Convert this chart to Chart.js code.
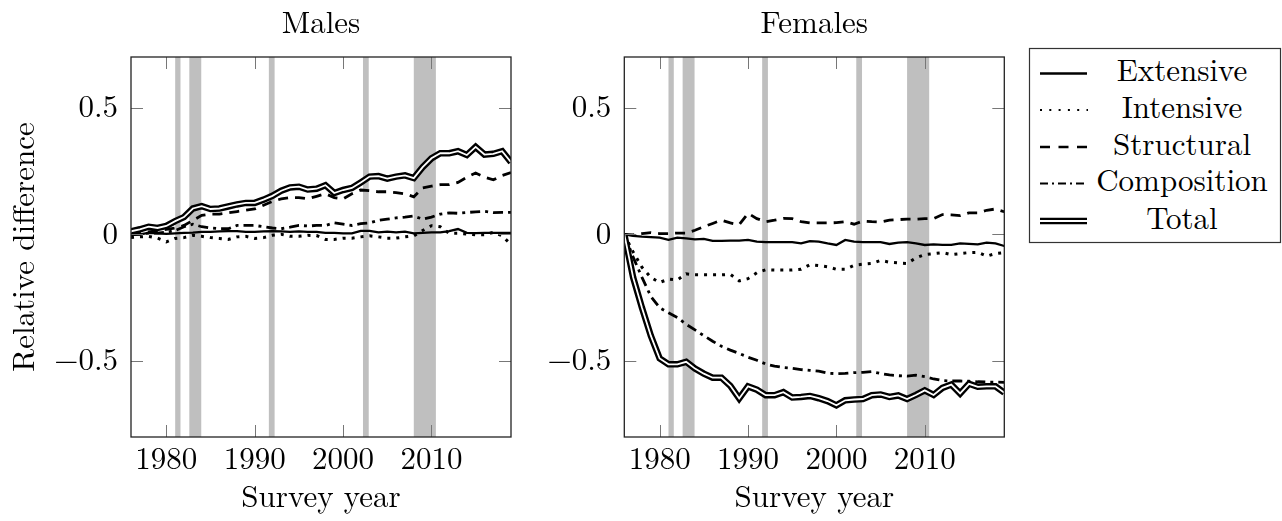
<!DOCTYPE html>
<html>
<head>
<meta charset="utf-8">
<script src="https://cdn.jsdelivr.net/npm/chart.js@4.4.1/dist/chart.umd.min.js"></script>
<style>
html,body{margin:0;padding:0;background:#fff;}
body{width:1282px;height:521px;position:relative;overflow:hidden;font-family:'Latin Modern Roman','Liberation Serif',serif;}
#cm{position:absolute;left:0;top:0;}
#cf{position:absolute;left:520px;top:0;}
#legend{position:absolute;left:1020px;top:40px;}
#fontprime{position:absolute;left:-2000px;top:0;font-size:31px;}
</style>
</head>
<body>
<div id="fontprime">Survey year 0.5 1980</div>
<canvas id="cm" width="520" height="521"></canvas>
<canvas id="cf" width="490" height="521"></canvas>
<svg id="legend" width="262" height="210" viewBox="1020 40 262 210" xmlns="http://www.w3.org/2000/svg">
  <rect x="1029.5" y="48.5" width="251" height="194" fill="#fff" stroke="#333" stroke-width="1.2"/>
  <line x1="1040" y1="73.5" x2="1087" y2="73.5" stroke="#000" stroke-width="2.6"/>
  <line x1="1040" y1="110" x2="1088" y2="110" stroke="#000" stroke-width="2" stroke-dasharray="2 7.3"/>
  <line x1="1040" y1="147" x2="1087" y2="147" stroke="#000" stroke-width="2.6" stroke-dasharray="10 8.5"/>
  <line x1="1040" y1="183.5" x2="1087" y2="183.5" stroke="#000" stroke-width="2.2" stroke-dasharray="8 4 2 4"/>
  <line x1="1040" y1="221" x2="1087" y2="221" stroke="#000" stroke-width="6.5"/>
  <line x1="1040" y1="221" x2="1087" y2="221" stroke="#fff" stroke-width="1.8"/>
  <g font-family="'Latin Modern Roman', 'Liberation Serif', serif" font-size="31" fill="#000" text-anchor="middle">
    <text x="1182" y="81">Extensive</text>
    <text x="1182" y="117.5">Intensive</text>
    <text x="1182" y="154.5">Structural</text>
    <text x="1182" y="191">Composition</text>
    <text x="1182" y="228.5">Total</text>
  </g>
</svg>
<script>
// ---- data ----
const years = [1976,1977,1978,1979,1980,1981,1982,1983,1984,1985,1986,1987,1988,1989,1990,1991,1992,1993,1994,1995,1996,1997,1998,1999,2000,2001,2002,2003,2004,2005,2006,2007,2008,2009,2010,2011,2012,2013,2014,2015,2016,2017,2018,2019];

const maleExtensive = [-0.003,0.000,0.006,0.004,0.002,0.004,0.006,0.007,0.010,0.010,0.012,0.013,0.013,0.010,0.010,0.012,0.013,0.012,0.010,0.012,0.010,0.010,0.006,0.006,0.004,0.004,0.014,0.014,0.008,0.011,0.008,0.011,0.004,0.006,0.008,0.008,0.013,0.021,0.006,0.005,0.006,0.006,0.006,0.006];
const maleIntensive = [-0.013,-0.010,-0.008,-0.015,-0.030,-0.016,-0.013,-0.004,-0.008,-0.013,-0.016,-0.020,-0.010,-0.008,-0.016,-0.013,-0.004,0.000,-0.008,-0.008,-0.004,-0.005,-0.020,-0.020,-0.015,-0.015,-0.010,-0.006,-0.010,-0.015,-0.015,-0.010,-0.006,0.015,0.034,0.030,0.004,0.004,0.001,-0.002,-0.002,0.008,-0.006,-0.040];
const maleStructural = [0.000,0.005,0.010,0.015,0.020,0.025,0.035,0.055,0.075,0.080,0.080,0.085,0.090,0.095,0.100,0.115,0.130,0.140,0.145,0.145,0.140,0.150,0.160,0.145,0.140,0.160,0.175,0.172,0.168,0.168,0.165,0.160,0.148,0.183,0.190,0.196,0.196,0.205,0.225,0.242,0.226,0.215,0.232,0.244];
const maleComposition = [0.000,0.000,0.005,0.005,0.008,0.015,0.030,0.040,0.030,0.025,0.022,0.022,0.035,0.035,0.035,0.030,0.025,0.022,0.028,0.035,0.033,0.035,0.035,0.045,0.040,0.035,0.042,0.045,0.055,0.060,0.065,0.068,0.072,0.060,0.068,0.080,0.085,0.083,0.086,0.089,0.091,0.086,0.087,0.087];
const maleTotal = [0.012,0.020,0.030,0.025,0.033,0.052,0.068,0.102,0.111,0.100,0.102,0.110,0.118,0.124,0.124,0.137,0.152,0.172,0.185,0.188,0.177,0.180,0.194,0.163,0.175,0.183,0.205,0.228,0.230,0.220,0.228,0.233,0.222,0.265,0.300,0.320,0.320,0.328,0.313,0.345,0.315,0.318,0.328,0.285];

const femaleExtensive = [0,-0.006,-0.009,-0.011,-0.013,-0.022,-0.013,-0.016,-0.020,-0.018,-0.026,-0.026,-0.025,-0.025,-0.022,-0.029,-0.031,-0.031,-0.031,-0.031,-0.036,-0.027,-0.029,-0.036,-0.042,-0.022,-0.029,-0.031,-0.031,-0.031,-0.038,-0.033,-0.031,-0.036,-0.042,-0.040,-0.042,-0.042,-0.036,-0.038,-0.040,-0.033,-0.036,-0.046];
const femaleIntensive = [0,-0.070,-0.130,-0.170,-0.190,-0.177,-0.180,-0.156,-0.160,-0.160,-0.160,-0.160,-0.158,-0.184,-0.175,-0.152,-0.140,-0.141,-0.141,-0.141,-0.138,-0.120,-0.123,-0.128,-0.138,-0.138,-0.122,-0.118,-0.115,-0.103,-0.110,-0.113,-0.115,-0.093,-0.080,-0.076,-0.072,-0.080,-0.076,-0.072,-0.071,-0.086,-0.076,-0.072];
const femaleStructural = [0,-0.002,0.003,0.007,0.003,0.003,0.005,0.005,0.016,0.030,0.043,0.056,0.045,0.038,0.083,0.062,0.050,0.056,0.063,0.062,0.050,0.045,0.045,0.045,0.046,0.050,0.040,0.052,0.050,0.049,0.056,0.058,0.060,0.060,0.062,0.062,0.078,0.077,0.074,0.085,0.085,0.095,0.100,0.089];
const femaleComposition = [0,-0.090,-0.170,-0.245,-0.290,-0.310,-0.328,-0.355,-0.377,-0.400,-0.422,-0.442,-0.457,-0.470,-0.485,-0.497,-0.512,-0.520,-0.526,-0.529,-0.534,-0.537,-0.540,-0.548,-0.550,-0.549,-0.546,-0.545,-0.542,-0.549,-0.555,-0.558,-0.560,-0.556,-0.562,-0.571,-0.577,-0.579,-0.579,-0.580,-0.582,-0.583,-0.583,-0.584];
const femaleTotal = [0,-0.170,-0.290,-0.400,-0.490,-0.513,-0.513,-0.503,-0.530,-0.550,-0.566,-0.566,-0.598,-0.648,-0.600,-0.613,-0.635,-0.635,-0.623,-0.644,-0.642,-0.638,-0.647,-0.658,-0.675,-0.655,-0.652,-0.650,-0.635,-0.632,-0.642,-0.636,-0.650,-0.634,-0.616,-0.634,-0.606,-0.593,-0.628,-0.590,-0.602,-0.600,-0.600,-0.625];

const recessionStart = [1981.0, 1982.6, 1991.6, 2002.25, 2008.0];
const recessionEnd   = [1981.6, 1983.95, 1992.25, 2002.9, 2010.5];

const xTickValues = [1980, 1990, 2000, 2010];
const yTickValues = [-0.5, 0, 0.5];

// ---- drawing ----
const FONT = "'Latin Modern Roman', 'Liberation Serif', serif";
const font31 = {family: FONT, size: 31, weight: 'normal', lineHeight: 1.2};

const pts = arr => years.map((yr, i) => ({x: yr, y: arr[i]}));

const bandsPlugin = {
  id: 'bands',
  beforeDatasetsDraw(chart) {
    const {ctx, chartArea: a, scales: {x}} = chart;
    ctx.save();
    ctx.fillStyle = '#bfbfbf';
    recessionStart.forEach((s, i) => {
      const x1 = x.getPixelForValue(s), x2 = x.getPixelForValue(recessionEnd[i]);
      ctx.fillRect(x1, a.top, x2 - x1, a.bottom - a.top);
    });
    ctx.restore();
  }
};

const framePlugin = {
  id: 'frame',
  afterDatasetsDraw(chart) {
    const {ctx, chartArea: a, scales: {x, y}} = chart;
    ctx.save();
    ctx.strokeStyle = '#777';
    ctx.lineWidth = 1;
    const L = 12;
    ctx.beginPath();
    xTickValues.forEach(v => {
      const px = Math.round(x.getPixelForValue(v)) + 0.5;
      ctx.moveTo(px, a.bottom); ctx.lineTo(px, a.bottom - L);
      ctx.moveTo(px, a.top); ctx.lineTo(px, a.top + L);
    });
    yTickValues.forEach(v => {
      const py = Math.round(y.getPixelForValue(v)) + 0.5;
      ctx.moveTo(a.left, py); ctx.lineTo(a.left + L, py);
      ctx.moveTo(a.right, py); ctx.lineTo(a.right - L, py);
    });
    ctx.stroke();
    ctx.strokeStyle = '#222';
    ctx.lineWidth = 1.3;
    ctx.strokeRect(a.left, a.top, a.right - a.left, a.bottom - a.top);
    ctx.restore();
  }
};

function makeChart(id, title, s, yWidth, padRight, showYTitle) {
  const common = {fill: false, pointRadius: 0, tension: 0, clip: 0, borderColor: '#000'};
  return new Chart(document.getElementById(id), {
    type: 'line',
    data: {
      datasets: [
        Object.assign({}, common, {label: 'Total', data: pts(s.total), borderColor: '#fff', borderWidth: 1.8}),
        Object.assign({}, common, {label: 'Total', data: pts(s.total), borderWidth: 6.5}),
        Object.assign({}, common, {label: 'Extensive', data: pts(s.extensive), borderWidth: 2.3}),
        Object.assign({}, common, {label: 'Intensive', data: pts(s.intensive), borderWidth: 3, borderDash: [3, 6]}),
        Object.assign({}, common, {label: 'Structural', data: pts(s.structural), borderWidth: 2.8, borderDash: [10, 7]}),
        Object.assign({}, common, {label: 'Composition', data: pts(s.composition), borderWidth: 2.8, borderDash: [10, 5, 3, 5]})
      ]
    },
    options: {
      responsive: false,
      animation: false,
      events: [],
      layout: {padding: {left: 0, right: padRight, top: 0, bottom: 0}},
      plugins: {
        legend: {display: false},
        tooltip: {enabled: false},
        title: {display: true, text: title, fullSize: false, color: '#000', font: font31, padding: {top: 5, bottom: 14.8}}
      },
      scales: {
        x: {
          type: 'linear', min: 1976, max: 2019,
          grid: {display: false, drawTicks: false},
          border: {display: false},
          afterBuildTicks: sc => { sc.ticks = xTickValues.map(v => ({value: v})); },
          afterFit: sc => { sc.height = 84; },
          ticks: {color: '#000', font: font31, padding: 4, maxRotation: 0, autoSkip: false, callback: v => String(v)},
          title: {display: true, text: 'Survey year', color: '#000', font: font31, padding: {top: 0, bottom: 5}}
        },
        y: {
          type: 'linear', min: -0.8, max: 0.7,
          grid: {display: false, drawTicks: false},
          border: {display: false},
          afterBuildTicks: sc => { sc.ticks = yTickValues.map(v => ({value: v})); },
          afterFit: sc => { sc.width = yWidth; },
          ticks: {color: '#000', font: font31, padding: 13, autoSkip: false,
                  callback: v => (v < 0 ? '\u2212' + String(Math.abs(v)) : String(v))},
          title: {display: showYTitle, text: 'Relative difference', color: '#000', font: font31, padding: {top: 6, bottom: 0}}
        }
      }
    },
    plugins: [bandsPlugin, framePlugin]
  });
}

function drawAll() {
  makeChart('cm', 'Males', {
    total: maleTotal, extensive: maleExtensive, intensive: maleIntensive,
    structural: maleStructural, composition: maleComposition
  }, 131, 9, true);
  makeChart('cf', 'Females', {
    total: femaleTotal, extensive: femaleExtensive, intensive: femaleIntensive,
    structural: femaleStructural, composition: femaleComposition
  }, 104.3, 5.7, false);
}

const fontReady = (document.fonts && document.fonts.load)
  ? document.fonts.load("31px 'Latin Modern Roman'").catch(() => null)
  : Promise.resolve();
Promise.race([fontReady, new Promise(r => setTimeout(r, 1500))]).then(drawAll);
</script>
</body>
</html>
